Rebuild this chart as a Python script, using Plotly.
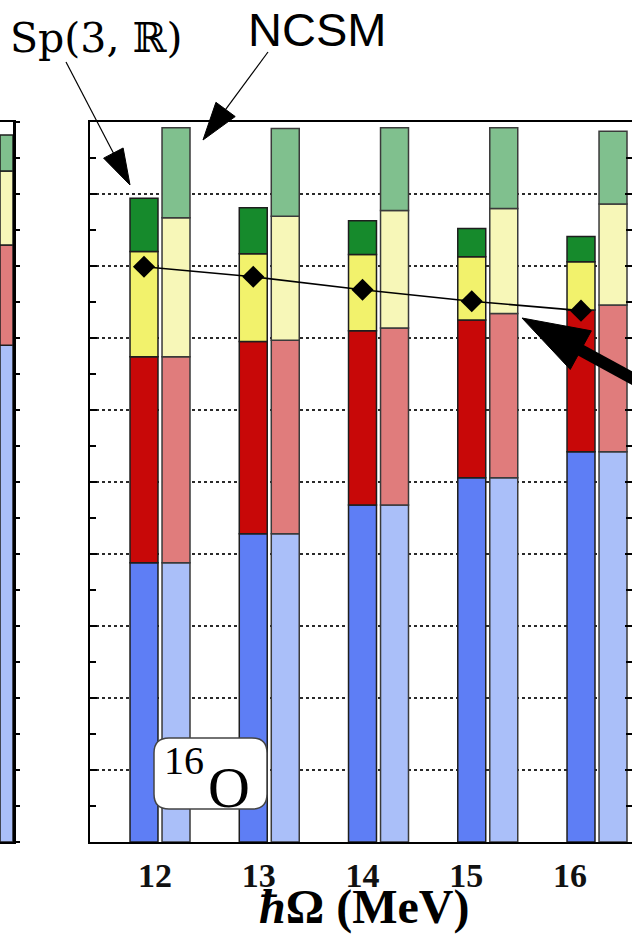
import numpy as np
import plotly.graph_objects as go

W, H = 632, 940

# ---------------- data ----------------
hbar_omega = [12, 13, 14, 15, 16]
tick_labels = ["12", "13", "14", "15", "16"]

# Sp(3,R) probabilities (0, 2, 4, 6 hbar-omega pieces)
sp_0 = [0.388, 0.428, 0.468, 0.506, 0.542]
sp_2 = [0.286, 0.267, 0.242, 0.219, 0.197]
sp_4 = [0.146, 0.122, 0.106, 0.088, 0.067]
sp_6 = [0.074, 0.064, 0.047, 0.039, 0.035]

# NCSM probabilities
ncsm_0 = [0.388, 0.428, 0.468, 0.506, 0.542]
ncsm_2 = [0.286, 0.269, 0.246, 0.228, 0.204]
ncsm_4 = [0.193, 0.172, 0.163, 0.146, 0.140]
ncsm_6 = [0.125, 0.122, 0.115, 0.112, 0.101]

# diamond markers (Sp(3,R) reference)
sp_marker = [0.799, 0.785, 0.767, 0.751, 0.738]

# partially visible neighbouring panel (left)
left_panel = [0.690, 0.139, 0.103, 0.050]

sp_colors = ["#5e7ef5", "#c80808", "#f2f26c", "#168a2c"]
ncsm_colors = ["#aabff9", "#e07c7c", "#f7f7b8", "#80c08e"]

# ---------------- helpers ----------------
def P(px, py):
    return px / W, 1 - py / H

y_dom = [1 - 842 / H, 1 - 122 / H]

fig = go.Figure()

def add_stack(vals_list, colors, offset, width, xref="x", yref="y", xs=None, lc="#1e1e1e"):
    base = np.zeros(len(vals_list[0]))
    for vals, col in zip(vals_list, colors):
        fig.add_trace(go.Bar(
            x=xs, y=vals, base=base.copy(), width=width, offset=offset,
            marker=dict(color=col, line=dict(color=lc, width=1.5)),
            xaxis=xref, yaxis=yref, hoverinfo="skip", showlegend=False))
        base = base + np.array(vals)

bw = 0.256
add_stack([sp_0, sp_2, sp_4, sp_6], sp_colors, -0.279, bw, xs=hbar_omega)
add_stack([ncsm_0, ncsm_2, ncsm_4, ncsm_6], ncsm_colors, 0.014, bw, xs=hbar_omega, lc="#3a3a3a")

# diamonds at the centre of the Sp(3,R) bars
fig.add_trace(go.Scatter(
    x=[h - 0.279 + bw / 2 for h in hbar_omega], y=sp_marker,
    mode="lines+markers", line=dict(color="black", width=1.6),
    marker=dict(symbol="diamond", size=17, color="black"),
    hoverinfo="skip", showlegend=False))

# invisible trace carrying tick labels axis
fig.add_trace(go.Scatter(x=hbar_omega, y=[0] * 5, xaxis="x2", yaxis="y",
                         mode="markers", marker=dict(opacity=0),
                         hoverinfo="skip", showlegend=False))

# left panel
add_stack([[v] for v in left_panel], ncsm_colors, 0, 1, xref="x3", yref="y3", xs=[0])

# ---------------- axes ----------------
x_dom = [90 / W, 1.0]
sc = 109.25
xl = 12 - 70.5 / sc
xr = xl + 542 / sc
sc2 = 103.75
xl2 = 12 - 65 / sc2
xr2 = xl2 + 542 / sc2

fig.update_layout(
    width=W, height=H, margin=dict(l=0, r=0, t=0, b=0, autoexpand=False),
    paper_bgcolor="white", plot_bgcolor="white",
    barmode="overlay", showlegend=False,
    xaxis=dict(domain=x_dom, range=[xl, xr], showticklabels=False, ticks="",
               showgrid=False, zeroline=False, showline=True, linecolor="black",
               linewidth=2, mirror=True),
    xaxis2=dict(domain=x_dom, range=[xl2, xr2], overlaying="x", side="bottom",
                tickvals=hbar_omega, ticktext=["<b>%s</b>" % t for t in tick_labels],
                ticks="", showline=False, showgrid=False, zeroline=False,
                tickfont=dict(family="Liberation Serif", size=34, color="#111"),
                ticklabelstandoff=10),
    yaxis=dict(domain=y_dom, range=[0, 1], dtick=0.1, showticklabels=False,
               ticks="inside", ticklen=7, tickwidth=2, tickcolor="black",
               showgrid=True, gridcolor="#2a2a2a", griddash="dot", gridwidth=2,
               zeroline=False, showline=True, linecolor="black", linewidth=2,
               mirror="ticks",
               minor=dict(dtick=0.05, ticks="inside", ticklen=6, tickwidth=2,
                          tickcolor="black", showgrid=False)),
    xaxis3=dict(domain=[0, 13 / W], range=[0, 1], showticklabels=False, ticks="",
                showgrid=False, zeroline=False, showline=True, linecolor="black",
                linewidth=2, mirror=True, anchor="y3"),
    yaxis3=dict(domain=y_dom, range=[0, 1], side="right", anchor="x3",
                showticklabels=False, ticks="outside", ticklen=4, tickwidth=2,
                tickcolor="black", dtick=0.05, showgrid=False, zeroline=False,
                showline=True, linecolor="black", linewidth=3),
)

# ---------------- decorations ----------------
shapes = []

def seg(p0, p1, width, color="black"):
    x0, y0 = P(*p0)
    x1, y1 = P(*p1)
    shapes.append(dict(type="line", xref="paper", yref="paper", x0=x0, y0=y0,
                       x1=x1, y1=y1, line=dict(color=color, width=width)))

def tri(pts):
    s = "M " + " L ".join("%.5f,%.5f" % P(*p) for p in pts) + " Z"
    shapes.append(dict(type="path", xref="paper", yref="paper", path=s,
                       fillcolor="black", line=dict(color="black", width=1)))

def arrow(start, tip, head_len, half_w, width):
    sx, sy = start
    tx, ty = tip
    dx, dy = tx - sx, ty - sy
    L = (dx * dx + dy * dy) ** 0.5
    ux, uy = dx / L, dy / L
    bx, by = tx - head_len * ux, ty - head_len * uy
    px, py = -uy, ux
    seg(start, (bx + 2 * ux, by + 2 * uy), width)
    tri([(tx, ty), (bx + half_w * px, by + half_w * py), (bx - half_w * px, by - half_w * py)])

arrow((66, 62), (130, 185), 36, 11, 1.2)
arrow((268, 52), (203, 140), 38, 12, 1.2)
arrow((650, 388), (522, 318), 67, 22, 12)

# rounded box for 16O
x0, x1, y0, y1, r = 154, 267, 738, 809, 15
pts = [("M", (x0 + r, y0)), ("L", (x1 - r, y0)), ("Q", (x1, y0), (x1, y0 + r)),
       ("L", (x1, y1 - r)), ("Q", (x1, y1), (x1 - r, y1)), ("L", (x0 + r, y1)),
       ("Q", (x0, y1), (x0, y1 - r)), ("L", (x0, y0 + r)), ("Q", (x0, y0), (x0 + r, y0))]
path = ""
for item in pts:
    cmd = item[0]
    path += cmd + " " + " ".join("%.5f,%.5f" % P(*p) for p in item[1:]) + " "
path += "Z"
shapes.append(dict(type="path", xref="paper", yref="paper", path=path,
                   fillcolor="white", line=dict(color="#444", width=1.5)))

fig.update_layout(shapes=shapes)

def ann(text, px, py, size, family, color="black", xanchor="center"):
    x, y = P(px, py)
    fig.add_annotation(text=text, x=x, y=y, xref="paper", yref="paper",
                       showarrow=False, xanchor=xanchor, yanchor="middle",
                       font=dict(family=family, size=size, color=color))

ann("Sp(3, ℝ)", 96, 38, 41, "DejaVu Serif")
ann("NCSM", 317, 30, 47, "Liberation Sans")
ann("16", 184, 760, 40, "Liberation Serif")
ann("O", 229, 787, 58, "Liberation Serif")
ann("<b><i>ħ</i>Ω (MeV)</b>", 364, 907, 48, "Liberation Serif")

fig.write_html("out.html", config={"displayModeBar": False},
               post_script="document.body.style.margin='0';document.body.style.overflow='hidden';")
